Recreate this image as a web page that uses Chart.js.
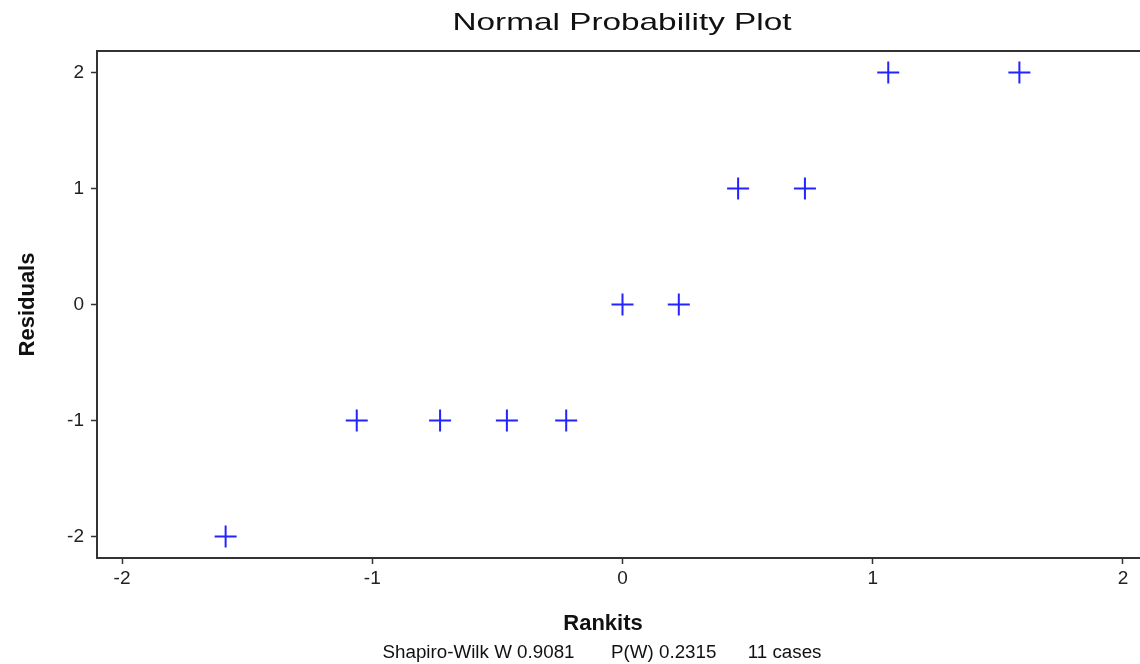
<!DOCTYPE html>
<html>
<head>
<meta charset="utf-8">
<title>Normal Probability Plot</title>
<script src="https://cdn.jsdelivr.net/npm/chart.js@4.4.1/dist/chart.umd.min.js"></script>
<style>
    html, body { margin: 0; padding: 0; background: #fff; overflow: hidden; }
    #plot { position: absolute; left: 0; top: 0; }
</style>
</head>
<body>
<canvas id="plot" width="1140" height="664"></canvas>
<script>
// normal scores (rankits) for 11 cases and the residuals plotted against them
const rankits = [-1.586, -1.062, -0.729, -0.462, -0.225, 0, 0.225, 0.462, 0.729, 1.062, 1.586];
const residuals = [-2, -1, -1, -1, -1, 0, 0, 1, 1, 2, 2];
const xTicks = [-2, -1, 0, 1, 2];
const yTicks = [-2, -1, 0, 1, 2];

const chartTitle = 'Normal Probability Plot';
const xLabel = 'Rankits';
const yLabel = 'Residuals';
const footNote = 'Shapiro-Wilk W 0.9081       P(W) 0.2315      11 cases';

const FONT = '"Liberation Sans", Arial, sans-serif';
const axisColor = '#333';

// draw text centred at (cx, y), stretched horizontally to a given width
function stretchedText(ctx, text, cx, y, width) {
    ctx.save();
    ctx.translate(cx, y);
    ctx.scale(width / ctx.measureText(text).width, 1);
    ctx.fillText(text, 0, 0);
    ctx.restore();
}

// texts outside the axes, plus the top frame line
const framePlugin = {
    id: 'frame',
    afterDraw(chart) {
        const ctx = chart.ctx;
        const a = chart.chartArea;
        ctx.save();
        ctx.strokeStyle = axisColor;
        ctx.lineWidth = 2;
        ctx.beginPath();
        ctx.moveTo(a.left, a.top);
        ctx.lineTo(a.right, a.top);
        ctx.stroke();

        ctx.fillStyle = '#111';
        ctx.textAlign = 'center';
        ctx.textBaseline = 'alphabetic';

        ctx.font = '24px ' + FONT;
        stretchedText(ctx, chartTitle, 622, 30, 339);

        ctx.font = 'bold 22px ' + FONT;
        ctx.fillText(xLabel, 603, 630);

        ctx.font = '18px ' + FONT;
        stretchedText(ctx, footNote, 602, 658, 439);
        ctx.restore();
    }
};

const points = rankits.map((r, i) => ({ x: r, y: residuals[i] }));

new Chart(document.getElementById('plot'), {
    type: 'scatter',
    data: {
        datasets: [{
            data: points,
            pointStyle: 'cross',
            pointRadius: 11,
            pointHoverRadius: 11,
            pointBorderWidth: 2,
            borderColor: 'rgb(35,35,255)',
            backgroundColor: 'rgb(35,35,255)'
        }]
    },
    options: {
        responsive: false,
        animation: false,
        layout: {
            autoPadding: false,
            padding: { top: 51, left: 0, right: 0, bottom: 76 }
        },
        plugins: {
            legend: { display: false },
            tooltip: { enabled: false }
        },
        scales: {
            x: {
                type: 'linear',
                min: -2.1,
                max: 2.068,
                afterBuildTicks: s => { s.ticks = xTicks.map(v => ({ value: v })); },
                afterFit: s => { s.height = 30; },
                ticks: {
                    padding: 3,
                    color: '#222',
                    font: { family: FONT, size: 19 }
                },
                grid: {
                    drawOnChartArea: false,
                    drawTicks: true,
                    tickLength: 6,
                    tickWidth: 1.5,
                    tickColor: axisColor
                },
                border: { display: true, color: axisColor, width: 2 }
            },
            y: {
                type: 'linear',
                min: -2.185,
                max: 2.185,
                afterBuildTicks: s => { s.ticks = yTicks.map(v => ({ value: v })); },
                afterFit: s => { s.width = 97; },
                ticks: {
                    padding: 7,
                    color: '#222',
                    font: { family: FONT, size: 19 }
                },
                grid: {
                    drawOnChartArea: false,
                    drawTicks: true,
                    tickLength: 6,
                    tickWidth: 1.5,
                    tickColor: axisColor
                },
                border: { display: true, color: axisColor, width: 2 },
                title: {
                    display: true,
                    text: yLabel,
                    color: '#111',
                    font: { family: FONT, size: 22, weight: 'bold' },
                    padding: { top: 15, bottom: 0 }
                }
            }
        }
    },
    plugins: [framePlugin]
});
</script>
</body>
</html>
